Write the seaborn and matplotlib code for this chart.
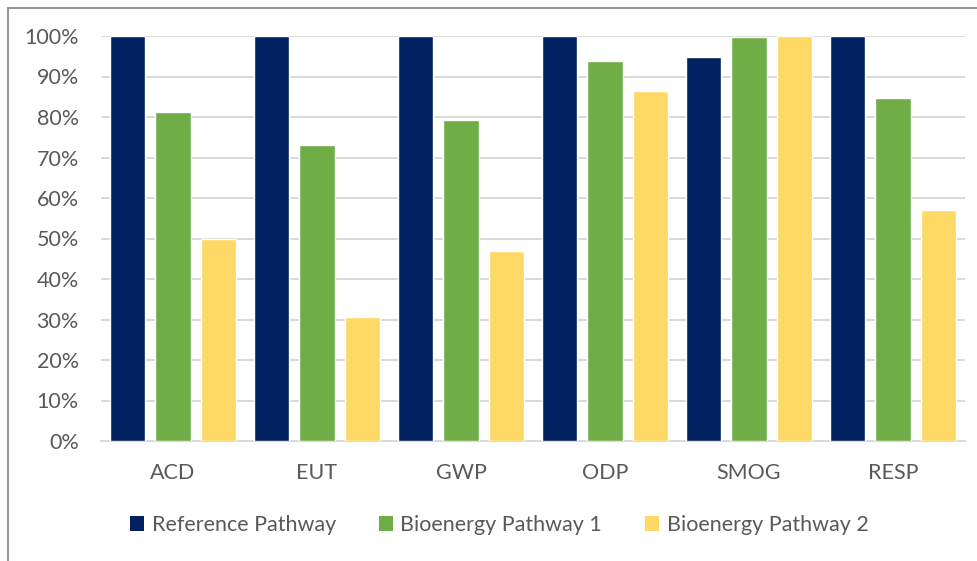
import matplotlib
matplotlib.use("Agg")
import matplotlib.pyplot as plt
from matplotlib.lines import Line2D
from matplotlib.patches import Patch
from matplotlib.ticker import PercentFormatter
import pandas as pd
import seaborn as sns

# Impact categories and relative results per pathway (fraction of maximum)
categories = ["ACD", "EUT", "GWP", "ODP", "SMOG", "RESP"]
series_names = ["Reference Pathway", "Bioenergy Pathway 1", "Bioenergy Pathway 2"]
reference_pathway = [1.00, 1.00, 1.00, 1.00, 0.947, 1.00]
bioenergy_pathway_1 = [0.812, 0.730, 0.793, 0.938, 0.998, 0.847]
bioenergy_pathway_2 = [0.500, 0.306, 0.469, 0.865, 1.00, 0.570]
y_ticks = [0.0, 0.1, 0.2, 0.3, 0.4, 0.5, 0.6, 0.7, 0.8, 0.9, 1.0]

colors = ["#002060", "#70AD47", "#FFD966"]
text_color = "#595959"

df = pd.DataFrame({
    "category": categories * 3,
    "pathway": [series_names[0]] * 6 + [series_names[1]] * 6 + [series_names[2]] * 6,
    "value": reference_pathway + bioenergy_pathway_1 + bioenergy_pathway_2,
})

sns.set_theme(style="white")
plt.rcParams["font.family"] = ["Lato", "DejaVu Sans"]

fig = plt.figure(figsize=(9.77, 5.61), dpi=100)
ax = fig.add_axes([101 / 977, 1 - 441 / 561, 864 / 977, 405 / 561])

sns.barplot(data=df, x="category", y="value", hue="pathway", order=categories,
            hue_order=series_names, palette=colors, width=0.94, gap=0.22,
            saturation=1, errorbar=None, legend=False, ax=ax, zorder=3)

ax.set_ylim(0, 1.0)
ax.set_xlim(-0.5, len(categories) - 0.5)
ax.set_yticks(y_ticks)
ax.yaxis.set_major_formatter(PercentFormatter(1.0, decimals=0))
ax.yaxis.grid(True, color="#D9D9D9", linewidth=1.4, zorder=0)
ax.set_axisbelow(True)
for side in ["top", "right", "left"]:
    ax.spines[side].set_visible(False)
ax.spines["bottom"].set_color("#D9D9D9")
ax.spines["bottom"].set_linewidth(1.4)
ax.set_xlabel("")
ax.set_ylabel("")
ax.tick_params(axis="y", length=0, pad=16, labelsize=15.5, labelcolor=text_color)
ax.tick_params(axis="x", length=0, pad=16, labelsize=15.5, labelcolor=text_color)

handles = [Patch(facecolor=c, edgecolor="none") for c in colors]
fig.legend(handles, series_names, loc="center", bbox_to_anchor=(0.511, 0.064),
           ncol=3, frameon=False, fontsize=15.5, labelcolor=text_color,
           handlelength=0.65, handleheight=0.65, handletextpad=0.35, columnspacing=2.0)

# Chart frame (left and top edges)
fig.add_artist(Line2D([7.5 / 977, 7.5 / 977], [0, 1 - 7.5 / 561],
                      transform=fig.transFigure, color="#8C8C8C", linewidth=1.3))
fig.add_artist(Line2D([7.5 / 977, 1], [1 - 7.5 / 561, 1 - 7.5 / 561],
                      transform=fig.transFigure, color="#8C8C8C", linewidth=1.3))

fig.savefig("out.png", dpi=100)
